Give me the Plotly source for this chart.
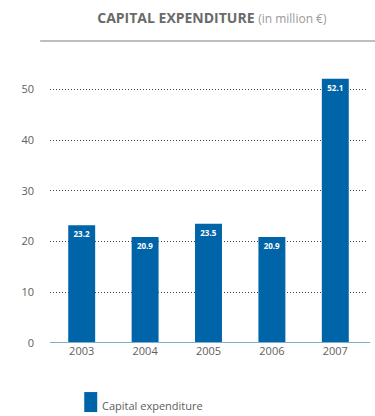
import plotly.graph_objects as go

# Capital expenditure per year, in million EUR
years = ["2003", "2004", "2005", "2006", "2007"]
capex = [23.2, 20.9, 23.5, 20.9, 52.1]
y_ticks = [0, 10, 20, 30, 40, 50]

BAR_BLUE = "#0064a8"
AXIS_BLUE = "#7aaed2"
TEXT_GREY = "#5e5e5e"
FONT = "Open Sans"

fig = go.Figure()
fig.add_trace(go.Bar(
    x=years,
    y=capex,
    name="Capital expenditure",
    marker=dict(color=BAR_BLUE, line=dict(width=0)),
    text=[f"{v:.1f}" for v in capex],
    textposition="inside",
    insidetextanchor="end",
    textfont=dict(family=FONT, size=8, color="white", weight="bold"),
    cliponaxis=False,
    showlegend=False,
))

fig.update_layout(
    width=375,
    height=416,
    margin=dict(l=50, r=8, t=69, b=73),
    paper_bgcolor="white",
    plot_bgcolor="white",
    bargap=0.575,
    font=dict(family=FONT, color=TEXT_GREY, size=11),
    title=dict(
        text="<b>CAPITAL EXPENDITURE</b> <span style='font-size:12px;color:#9a9a9a'>(in million €)</span>",
        font=dict(family=FONT, size=14, color="#6a6a6a"),
        xref="container", yref="container",
        x=0.565, y=1 - 18 / 416,
        xanchor="center", yanchor="middle",
    ),
    xaxis=dict(
        type="category",
        range=[-0.5, 4.5],
        showgrid=False,
        showline=False,
        zeroline=False,
        ticks="",
        tickfont=dict(family=FONT, size=11, color=TEXT_GREY),
    ),
    yaxis=dict(
        range=[0, 54],
        tickvals=y_ticks,
        showgrid=True,
        gridcolor="#444444",
        gridwidth=1,
        griddash="1px,2px",
        zeroline=False,
        showline=False,
        ticks="",
        ticklabelstandoff=15,
        tickfont=dict(family=FONT, size=11, color=TEXT_GREY),
    ),
    shapes=[
        # rule under the heading
        dict(type="line", xref="paper", yref="paper",
             x0=-0.031, x1=1.03, y0=1.102, y1=1.102,
             line=dict(color="#a8a8a8", width=1.5)),
        # baseline
        dict(type="line", xref="paper", yref="y",
             x0=0.0, x1=1.01, y0=0, y1=0,
             line=dict(color=AXIS_BLUE, width=2)),
        # legend swatch
        dict(type="rect", xref="paper", yref="paper",
             x0=0.108, x1=0.149, y0=-0.252, y1=-0.179,
             fillcolor=BAR_BLUE, line=dict(width=0)),
    ],
    annotations=[
        dict(text="Capital expenditure", xref="paper", yref="paper",
             x=0.158, y=-0.228, xanchor="left", yanchor="middle",
             showarrow=False,
             font=dict(family=FONT, size=11, color=TEXT_GREY)),
    ],
)

fig.write_html("out.html")
